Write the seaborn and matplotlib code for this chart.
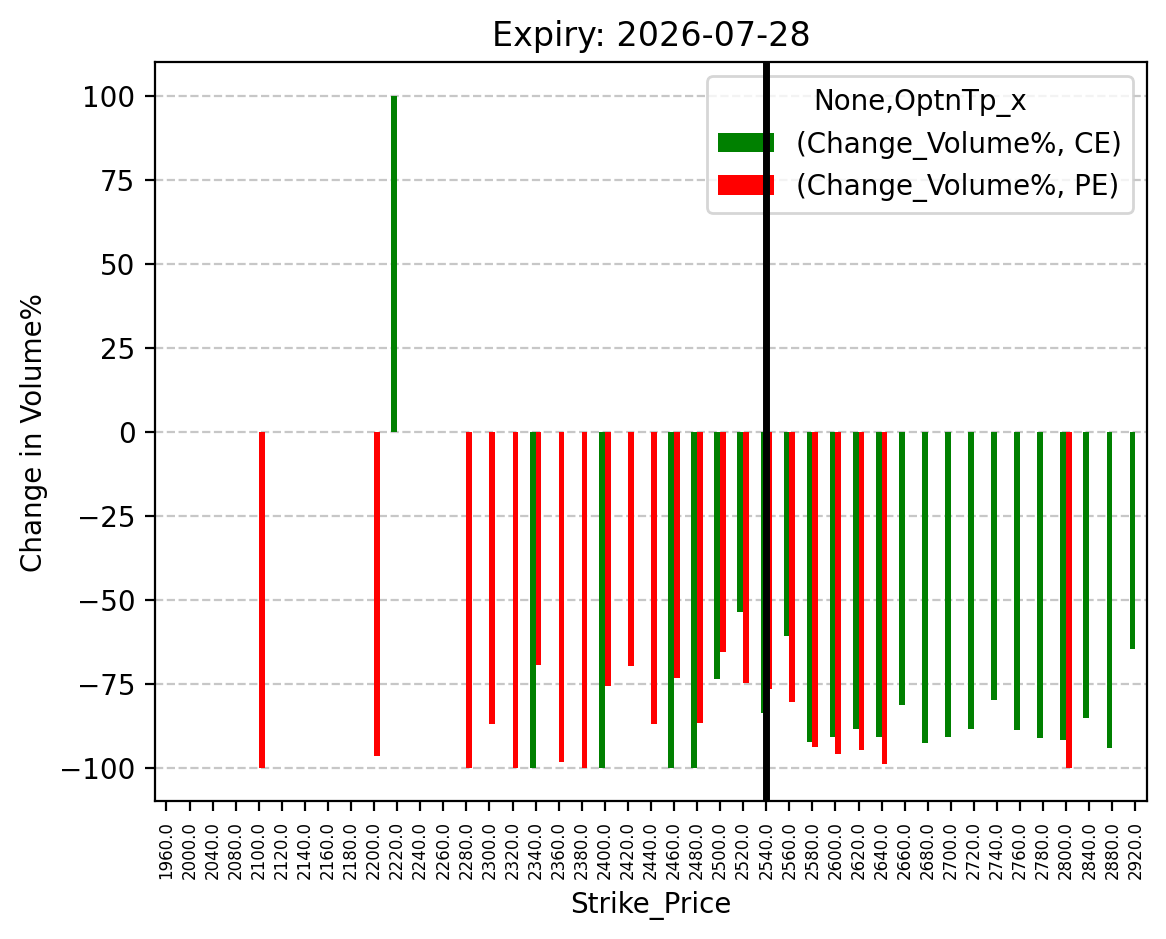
import pandas as pd
import numpy as np
import matplotlib
matplotlib.use("Agg")
import matplotlib.pyplot as plt
import seaborn as sns

nan = np.nan

strikes = [1960, 2000, 2040, 2080, 2100, 2120, 2140, 2160, 2180, 2200, 2220,
           2240, 2260, 2280, 2300, 2320, 2340, 2360, 2380, 2400, 2420, 2440,
           2460, 2480, 2500, 2520, 2540, 2560, 2580, 2600, 2620, 2640, 2660,
           2680, 2700, 2720, 2740, 2760, 2780, 2800, 2840, 2880, 2920]

# Change_Volume% for calls (CE) and puts (PE), NaN where no bar is drawn
ce_change = [nan, nan, nan, nan, nan, nan, nan, nan, nan, nan, 100.0,
             nan, nan, nan, nan, nan, -100.0, nan, nan, -100.0, nan, nan,
             -100.0, -100.0, -73.5, -53.8, -83.6, -60.7, -92.3, -90.8, -88.4, -90.8, -81.2,
             -92.6, -90.8, -88.4, -79.7, -88.7, -91.1, -91.7, -85.1, -94.0, -64.8]
pe_change = [nan, nan, nan, nan, -100.0, nan, nan, nan, nan, -96.4, nan,
             nan, nan, -100.0, -86.9, -100.0, -69.4, -98.2, -100.0, -75.6, -69.7, -86.9,
             -73.2, -86.6, -65.7, -74.9, -76.5, -80.3, -93.7, -95.8, -94.6, -98.8, nan,
             nan, nan, nan, nan, nan, nan, -100.0, nan, nan, nan]

expiry = "2026-07-28"
spot_strike = 2540

labels = [f"{s:.1f}" for s in strikes]
df = pd.DataFrame({
    "Strike_Price": labels * 2,
    "OptnTp_x": ["CE"] * len(labels) + ["PE"] * len(labels),
    "Change_Volume%": ce_change + pe_change,
}).dropna()

fig, ax = plt.subplots(figsize=(6.4, 4.8), dpi=200)
sns.barplot(data=df, x="Strike_Price", y="Change_Volume%", hue="OptnTp_x",
            order=labels, hue_order=["CE", "PE"],
            palette={"CE": "green", "PE": "red"}, saturation=1,
            width=0.5, linewidth=0, errorbar=None, ax=ax)

ax.grid(axis="y", linestyle="--", alpha=0.7)
ax.set_axisbelow(True)

handles, _ = ax.get_legend_handles_labels()
ax.legend(handles, ["(Change_Volume%, CE)", "(Change_Volume%, PE)"],
          title="None,OptnTp_x", loc="upper right")

# spot line drawn over the legend, as in the original
ax.axvline(labels.index(f"{spot_strike:.1f}"), color="black", linewidth=2.5, zorder=6)

ax.set_title(f"Expiry: {expiry}")
ax.set_xlabel("Strike_Price")
ax.set_ylabel("Change in Volume%")
ax.tick_params(axis="x", labelrotation=90, labelsize=6)

plt.savefig("out.png", dpi=200, bbox_inches="tight")
